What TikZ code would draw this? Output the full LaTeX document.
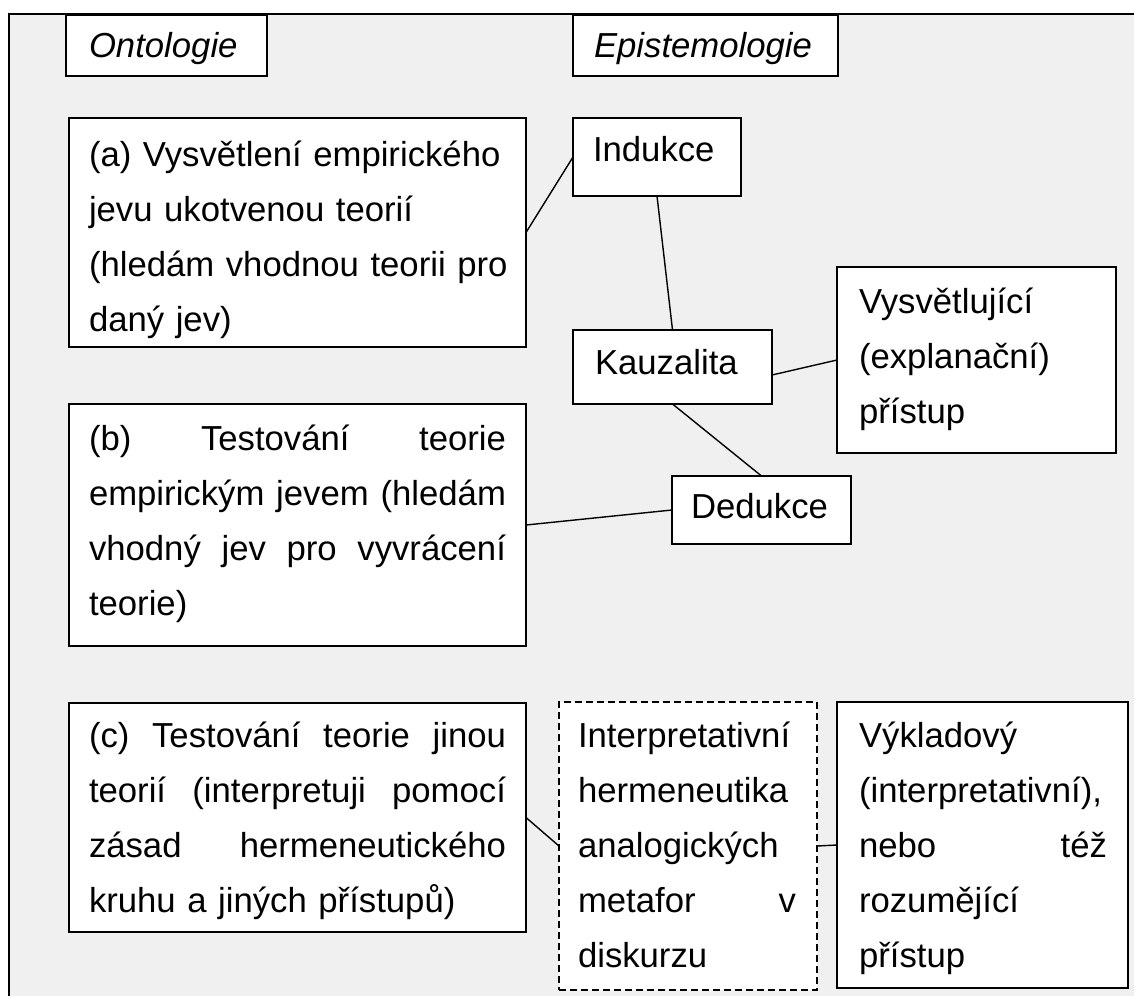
\documentclass[tikz,border=0pt]{standalone}
\usepackage{fontspec}
\setmainfont{Liberation Sans}
\definecolor{pagebg}{HTML}{F0F0F0}
% one line stretched to the given width (justified line)
\newcommand\JustLine[2]{\makebox[#1][s]{\spaceskip=0pt\xspaceskip=0pt #2}}
\begin{document}
\begin{tikzpicture}[x=1pt,y=-1pt,
  every node/.style={inner sep=0pt, outer sep=0pt},
  box/.style={draw=black, fill=white, line width=1.6pt, anchor=north west},
  dashbox/.style={box, dash pattern=on 7pt off 4pt, line width=1.4pt},
  txt/.style={anchor=base west, font=\fontsize{34.7pt}{55pt}\selectfont},
  head/.style={anchor=base west, font=\fontsize{34.7pt}{55pt}\selectfont\itshape},
  link/.style={draw=black, line width=1.4pt}]
\useasboundingbox (0,0) rectangle (1134,996);

% grey panel with its top and left rules
\fill[pagebg] (9,14) rectangle (1134,996);
\draw[line width=2pt] (9,996) -- (9,14) -- (1134,14);

% column headings
\node[box, minimum width=201pt, minimum height=61pt] (onto) at (66,15) {};
\node[head] (ontot) at (89,57) {Ontologie};
\node[box, minimum width=265pt, minimum height=61pt] (epis) at (573,15) {};
\node[head] (epist) at (594,57) {Epistemologie};

% ontology boxes
\node[box, minimum width=457pt, minimum height=229pt] (a) at (69,118) {};
\node[txt, text width=440pt] (at) at (89,166) {\mbox{(a) Vysvětlení empirického}\\
  \mbox{jevu ukotvenou teorií}\\\mbox{(hledám vhodnou teorii pro}\\\mbox{daný jev)}};

\node[box, minimum width=457pt, minimum height=242pt] (b) at (69,404) {};
\node[txt, text width=440pt] (bt) at (89,450) {\JustLine{417pt}{(b) Testování teorie}\\
  \JustLine{417pt}{empirickým jevem (hledám}\\
  \JustLine{417pt}{vhodný jev pro vyvrácení}\\\mbox{teorie)}};

\node[box, minimum width=457pt, minimum height=229pt] (c) at (69,703) {};
\node[txt, text width=440pt] (ct) at (89,747) {\JustLine{417pt}{(c) Testování teorie jinou}\\
  \JustLine{417pt}{teorií (interpretuji pomocí}\\
  \JustLine{417pt}{zásad hermeneutického}\\\mbox{kruhu a jiných přístupů)}};

% epistemology boxes
\node[box, minimum width=168pt, minimum height=78pt] (ind) at (573,118) {};
\node[txt] (indt) at (593,161) {Indukce};

\node[box, minimum width=199pt, minimum height=74pt] (kau) at (573,330) {};
\node[txt] (kaut) at (595,374) {Kauzalita};

\node[box, minimum width=179pt, minimum height=68pt] (ded) at (672,476) {};
\node[txt] (dedt) at (691,518) {Dedukce};

\node[box, minimum width=279pt, minimum height=186pt] (vys) at (837,267) {};
\node[txt, text width=260pt] (vyst) at (859,313) {\mbox{Vysvětlující}\\\mbox{(explanační)}\\\mbox{přístup}};

\node[dashbox, minimum width=258pt, minimum height=288pt] (int) at (559,702) {};
\node[txt, text width=240pt] (intt) at (578,747) {\mbox{Interpretativní}\\\mbox{hermeneutika}\\
  \mbox{analogických}\\\JustLine{218pt}{metafor v}\\\mbox{diskurzu}};

\node[box, minimum width=291pt, minimum height=286pt] (vyk) at (837,702) {};
\node[txt, text width=260pt] (vykt) at (859,747) {\mbox{Výkladový}\\\mbox{(interpretativní),}\\
  \JustLine{248pt}{nebo též}\\\mbox{rozumějící}\\\mbox{přístup}};

% connectors
\draw[link] (a.east) -- (ind.west);
\draw[link] (ind.south) -- (kau.north);
\draw[link] (kau.south) -- (ded.north);
\draw[link] ([yshift=-8pt]kau.east) -- (vys.west);
\draw[link] (b.east) -- (ded.west);
\draw[link] (c.east) -- (int.west);
\draw[link] (int.east) -- (vyk.west);
\end{tikzpicture}
\end{document}
